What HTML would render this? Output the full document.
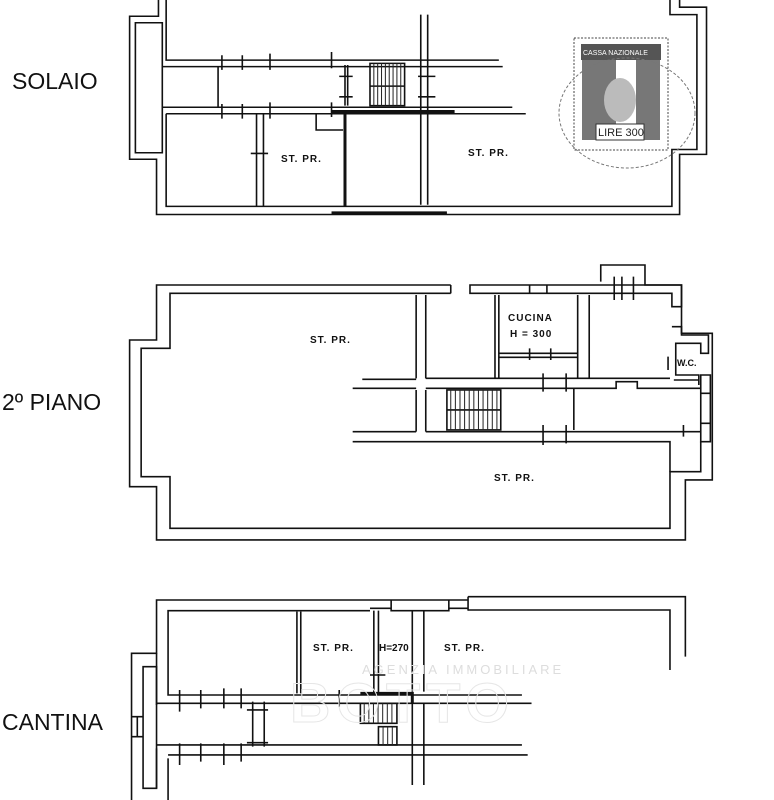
<!DOCTYPE html>
<html><head><meta charset="utf-8"><style>
html,body{margin:0;padding:0;background:#fff;width:774px;height:800px;overflow:hidden}
svg{display:block}
.w{fill:none;stroke:#111;stroke-width:1.6;vector-effect:non-scaling-stroke}
.t{fill:none;stroke:#111;stroke-width:3;vector-effect:non-scaling-stroke}
.h{fill:none;stroke:#222;stroke-width:1;vector-effect:non-scaling-stroke}
.lab{font-family:"Liberation Sans",sans-serif;font-size:23px;fill:#111}
.rm{font-family:"Liberation Sans",sans-serif;font-size:10px;font-weight:bold;fill:#111;letter-spacing:1px}
</style></head><body>
<svg width="774" height="800" viewBox="0 0 774 800" xmlns="http://www.w3.org/2000/svg">
<text class="lab" x="12" y="89">SOLAIO</text>
<text class="lab" x="2" y="410">2º PIANO</text>
<text class="lab" x="2" y="730">CANTINA</text>

<!-- SOLAIO -->
<g transform="translate(120,0) scale(0.3846,0.325)">
<path class="w" d="M100,0 V50 H25 V490 H95 V660 H1455 V475 H1525 V22 H1455 V0"/>
<path class="w" d="M120,0 V185 H985"/>
<path class="w" d="M40,70 H110 V470 H40 Z"/>
<path class="w" d="M110,205 H995 M110,330 H1020 M120,350 H1055"/>
<path class="w" d="M120,350 V635 H1435 V460 H1500 V45 H1430 V0"/>
<path class="t" d="M550,343 H870 M550,655 H850 M585,350 V635"/>
<path class="w" d="M782,45 V630 M800,45 V630 M255,205 V330 M355,350 V635 M373,350 V635 M585,200 V325 M592,200 V325"/>
<path class="w" d="M510,350 V400 H580"/>
<path class="w" d="M650,195 H740 V325 H650 Z M650,265 H740"/>
<path class="h" d="M660,195V325M670,195V325M680,195V325M690,195V325M700,195V325M710,195V325M720,195V325M730,195V325"/>
<path class="w" d="M265,170V215M318,170V215M390,165V215M550,160V210M265,320V365M318,320V365M390,315V365M550,315V360M570,235H605M570,298H605M775,235H820M775,298H820M340,472H385"/>
</g>
<!-- stamp -->
<g>
<rect x="574" y="38" width="94" height="112" fill="none" stroke="#444" stroke-width="1" stroke-dasharray="2,1.5"/>
<rect x="581" y="44" width="80" height="16" fill="#555"/>
<text x="583" y="55" font-family="Liberation Sans,sans-serif" font-size="7" fill="#fff">CASSA NAZIONALE</text>
<rect x="582" y="60" width="34" height="80" fill="#777"/>
<rect x="636" y="60" width="24" height="80" fill="#777"/>
<ellipse cx="620" cy="100" rx="16" ry="22" fill="#bbb"/>
<rect x="596" y="124" width="48" height="16" fill="#fff" stroke="#333"/>
<text x="598" y="136" font-family="Liberation Sans,sans-serif" font-size="11" fill="#222">LIRE 300</text>
<ellipse cx="627" cy="113" rx="68" ry="55" fill="none" stroke="#777" stroke-width="1" stroke-dasharray="3,2"/>
</g>
<text class="rm" x="281" y="162">ST. PR.</text>
<text class="rm" x="468" y="156">ST. PR.</text>

<!-- 2 PIANO -->
<g transform="translate(120,260) scale(0.3846,0.3333)">
<path class="w" d="M860,75 H95 V240 H25 V680 H95 V840 H1470 V660 H1540 V220 H1460 V75 H1365 V15 H1250 V65"/>
<path class="w" d="M860,100 H130 V265 H55 V650 H130 V805 H1430 V635 H1510 V545"/>
<path class="w" d="M860,75 V100 M910,75 H1065 V100 H910 Z M1065,75 H1110 M1065,100 H1110 M1110,75 H1460 V140 H1435 V100 H1110 Z"/>
<path class="w" d="M1285,50V120M1305,50V120M1335,50V120"/>
<path class="w" d="M770,105 V355 M795,105 V355 M770,390 V515 M795,390 V515"/>
<path class="w" d="M630,358 H770 M795,355 H1430 M605,385 H770 M795,385 H1290 V365 H1345 V385 H1510 M605,515 H770 M795,515 H1510 M605,545 H1430 V635"/>
<path class="w" d="M975,105 V355 M985,105 V355 M1190,105 V355 M1220,105 V355 M985,280 H1190 M985,292 H1190"/>
<path class="w" d="M1435,200 H1460 V225 H1530 V280 H1510 V250 H1445 V345 H1505 V375 M1440,360 H1505 M1510,345 H1535 V400 H1510 Z M1510,400 V545 H1535 V400 M1510,490 H1535"/>
<path class="w" d="M850,390 H990 V510 H850 Z M850,450 H990 M1180,385 V510"/>
<path class="h" d="M860,390V510M872,390V510M884,390V510M896,390V510M908,390V510M920,390V510M932,390V510M944,390V510M956,390V510M968,390V510M980,390V510"/>
<path class="w" d="M1100,340V395M1160,340V395M1100,495V555M1160,495V550M1065,265V300M1120,265V300M1425,290V330M1465,495V530"/>
</g>
<text class="rm" x="310" y="343">ST. PR.</text>
<text class="rm" x="508" y="321">CUCINA</text>
<text class="rm" x="510" y="337">H = 300</text>
<text class="rm" x="677" y="366" style="font-size:9px;letter-spacing:0">W.C.</text>
<text class="rm" x="494" y="481">ST. PR.</text>

<!-- CANTINA -->
<g transform="translate(120,580) scale(0.3846,0.3333)">
<path class="w" d="M1470,230 V50 H905 M905,50 V92 M855,60 H905 M855,85 H905 M705,60 H855 V92 H705 Z M650,60 H705 M650,85 H705 M650,60 H95 V220 H30 V660"/>
<path class="w" d="M1430,270 V90 H905 M650,92 H125 V345 H1045 M95,370 H1070 M95,220 V375"/>
<path class="t" d="M625,340 H760 V370"/>
<path class="w" d="M60,260 H95 V625 H60 Z M30,410 H60 M30,470 H60 M45,410 V470"/>
<path class="w" d="M95,505 V625 M95,495 H1045 M125,525 H1060 M125,535 V660"/>
<path class="w" d="M460,95 V340 M470,95 V340 M660,92 V340 M672,92 V340 M760,92 V335 M790,92 V335 M760,370 V615 M790,370 V615"/>
<path class="w" d="M625,370 H720 V430 H625 Z M672,440 H720 V495 H672 Z M650,285 H690"/>
<path class="h" d="M635,370V430M647,370V430M659,370V430M671,370V430M683,370V430M695,370V430M707,370V430M684,440V495M696,440V495M708,440V495"/>
<path class="w" d="M155,330V395M210,330V385M270,325V385M315,325V385M155,490V555M210,490V545M270,490V555M315,490V545M345,365V500M375,365V500M330,390H385M330,488H385M570,330V380"/>
</g>
<text font-family="Liberation Sans,sans-serif" font-size="13" fill="#ddd" x="362" y="674" letter-spacing="3">AGENZIA IMMOBILIARE</text>
<text font-family="Liberation Sans,sans-serif" font-size="56" font-weight="bold" fill="none" stroke="#e6e6e6" stroke-width="1" x="290" y="722" letter-spacing="6">BOTTO</text>
<text class="rm" x="313" y="651">ST. PR.</text>
<text class="rm" x="379" y="651" style="letter-spacing:0">H=270</text>
<text class="rm" x="444" y="651">ST. PR.</text>
</svg>
</body></html>
